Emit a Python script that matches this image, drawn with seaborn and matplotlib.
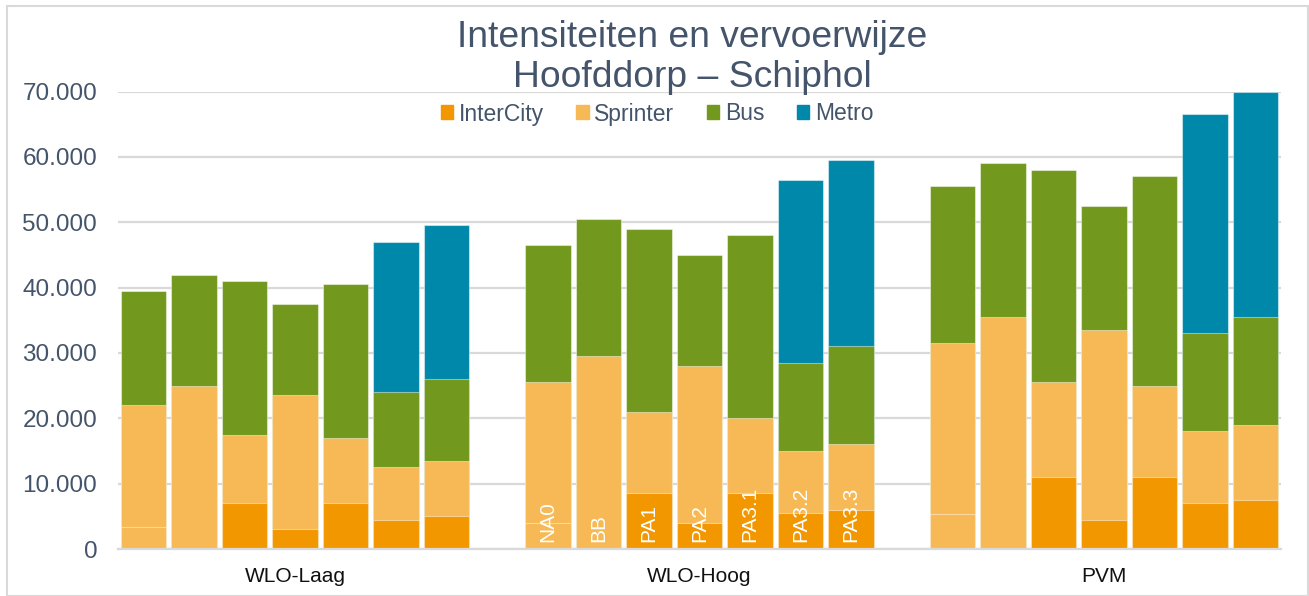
import pandas as pd
import matplotlib.pyplot as plt
import matplotlib.patches as mpatches
from matplotlib.ticker import FuncFormatter
import seaborn as sns

# Data
groups = ["WLO-Laag", "WLO-Hoog", "PVM"]
varianten = ["NA0", "BB", "PA1", "PA2", "PA3.1", "PA3.2", "PA3.3"]

intercity = [3400, 0, 7000, 3000, 7000, 4500, 5000,
             4000, 0, 8500, 4000, 8500, 5500, 6000,
             5300, 0, 11000, 4500, 11000, 7000, 7500]
sprinter = [18600, 25000, 10500, 20500, 10000, 8000, 8500,
            21500, 29500, 12500, 24000, 11500, 9500, 10000,
            26200, 35500, 14500, 29000, 14000, 11000, 11500]
bus = [17500, 17000, 23500, 14000, 23500, 11500, 12500,
       21000, 21000, 28000, 17000, 28000, 13500, 15000,
       24000, 23500, 32500, 19000, 32000, 15000, 16500]
metro = [0, 0, 0, 0, 0, 23000, 23500,
         0, 0, 0, 0, 0, 28000, 28500,
         0, 0, 0, 0, 0, 33500, 34500]

colors = {"InterCity": "#F39700", "Sprinter": "#F7B955",
          "Bus": "#72981D", "Metro": "#0088AB"}
text_col = "#44546A"


def generate_plot():
    rows = []
    for g, grp in enumerate(groups):
        for i, var in enumerate(varianten):
            k = g * len(varianten) + i
            rows.append({"groep": grp, "variant": var, "pos": g * 8 + i,
                         "InterCity": intercity[k], "Sprinter": sprinter[k],
                         "Bus": bus[k], "Metro": metro[k]})
    df = pd.DataFrame(rows)
    df["c_ic"] = df["InterCity"]
    df["c_spr"] = df["c_ic"] + df["Sprinter"]
    df["c_bus"] = df["c_spr"] + df["Bus"]
    df["c_metro"] = df["c_bus"] + df["Metro"]

    sns.set_theme(style="white")
    plt.rcParams["font.family"] = ["Liberation Sans", "DejaVu Sans"]

    fig = plt.figure(figsize=(13.09, 5.96), dpi=100)
    ax = fig.add_axes([118 / 1309, 47 / 596, (1281 - 118) / 1309, (549 - 91.5) / 596])

    edge = (1, 1, 1, 0.45)
    # stacked bars: draw cumulative totals from top layer down
    layers = [("c_metro", "Metro"), ("c_bus", "Bus"), ("c_spr", "Sprinter")]
    for col, name in layers:
        sub = df[df[name] > 0]
        sns.barplot(data=sub, x="pos", y=col, native_scale=True, width=0.9,
                    color=colors[name], saturation=1, edgecolor=edge,
                    linewidth=0.8, ax=ax, errorbar=None)
    # InterCity: the first variant in each group is drawn in the sprinter shade
    sub = df[df["InterCity"] > 0].copy()
    sub["kleur"] = ["eerste" if v == "NA0" else "ic" for v in sub["variant"]]
    sns.barplot(data=sub, x="pos", y="c_ic", hue="kleur", dodge=False,
                native_scale=True, width=0.9, saturation=1,
                palette={"eerste": colors["Sprinter"], "ic": colors["InterCity"]},
                edgecolor=edge, linewidth=0.8, ax=ax, errorbar=None, legend=False)

    # variant labels inside the WLO-Hoog bars
    hoog = df[df["groep"] == "WLO-Hoog"]
    for _, r in hoog.iterrows():
        ax.text(r["pos"], 1000, r["variant"], rotation=90, ha="center", va="bottom",
                color="white", fontsize=15)

    ax.set_xlim(-0.5, 22.5)
    ax.set_ylim(0, 70000)
    ax.set_yticks(range(0, 70001, 10000))
    ax.yaxis.set_major_formatter(FuncFormatter(lambda v, p: f"{v:,.0f}".replace(",", ".")))
    ax.set_xticks([3, 11, 19])
    ax.set_xticklabels(groups)
    ax.tick_params(axis="y", length=0, pad=15, labelsize=17.5, labelcolor=text_col)
    ax.tick_params(axis="x", length=0, pad=13, labelsize=15, labelcolor="#111111")
    ax.set_xlabel("")
    ax.set_ylabel("")
    ax.grid(axis="y", color="#D9D9D9", linewidth=1.6)
    ax.set_axisbelow(True)
    for s in ["top", "right", "left"]:
        ax.spines[s].set_visible(False)
    ax.spines["bottom"].set_color("#D9D9D9")
    ax.spines["bottom"].set_linewidth(1.6)

    # title
    fig.text(0.5287, 1 - 46.7 / 596, "Intensiteiten en vervoerwijze", ha="center",
             va="baseline", fontsize=26.8, color=text_col)
    fig.text(0.5287, 1 - 87.3 / 596, "Hoofddorp \u2013 Schiphol", ha="center",
             va="baseline", fontsize=26.8, color=text_col)

    # legend
    handles = [mpatches.Patch(color=colors[n], label=n)
               for n in ["InterCity", "Sprinter", "Bus", "Metro"]]
    fig.legend(handles=handles, loc="center", bbox_to_anchor=(657 / 1309, 1 - 114 / 596),
               ncol=4, frameon=False, fontsize=16.5, handlelength=0.55,
               handleheight=0.55, handletextpad=0.25, columnspacing=1.4,
               labelcolor=text_col)

    # chart border
    fig.patches.append(mpatches.Rectangle((7 / 1309, 0), (1308 - 7) / 1309, 1 - 6 / 596,
                                          transform=fig.transFigure, fill=False,
                                          edgecolor="#D9D9D9", linewidth=1.5))

    plt.savefig("out.png", dpi=100)
    plt.close()


if __name__ == "__main__":
    generate_plot()
